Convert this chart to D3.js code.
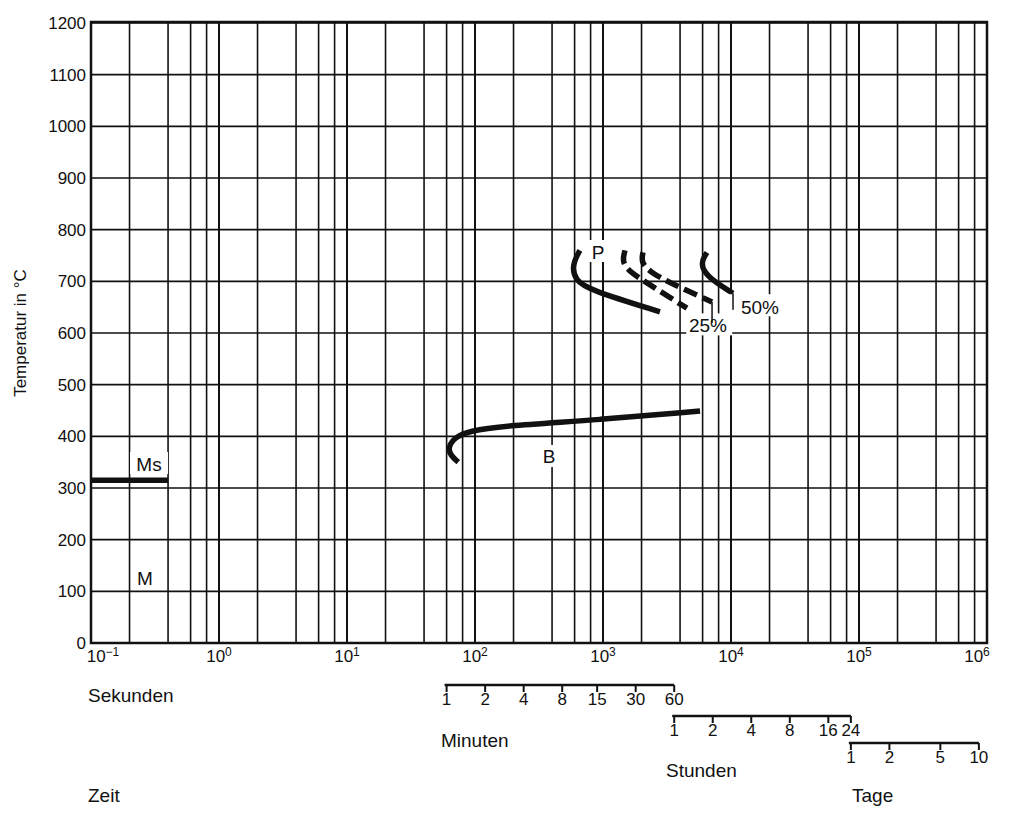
<!DOCTYPE html><html><head><meta charset="utf-8"><script src="https://cdn.jsdelivr.net/npm/d3@7"></script>
<style>body{margin:0;background:#fff}text{font-family:"Liberation Sans",Arial,sans-serif;fill:#111}</style></head><body>
<svg id="c" width="1024" height="819"></svg>
<script>
const yTicks=d3.range(0,1201,100);
const decades=[-1,0,1,2,3,4,5,6];
const gridMult=[1,2,4,6,8];
const msLine=[[0.1,315],[0.4,315]];
const bainit=[[5730,449],[948,432],[157,420],[91,410],[70,399],[61.5,379],[64,364],[74,350]];
const pStart=[[660,760],[573,732],[604,702],[791,683],[2786,641]];
const p25a=[[1486,760],[1406,737],[1626,718],[2328,693],[4529,648]];
const p25b=[[2054,756],[1982,737],[2328,718],[3334,697],[7110,660]];
const p50=[[6494,756],[5730,735],[6494,708],[10370,677]];
const minutes=[1,2,4,8,15,30,60];
const hours=[1,2,4,8,16,24];
const days=[1,2,5,10];

const svg=d3.select("#c");
const x=d3.scaleLog().domain([0.1,1e6]).range([91,987]);
const y=d3.scaleLinear().domain([0,1200]).range([643,23]);
const g=svg.append("g");
const vx=[];decades.forEach(d=>{if(d<6)gridMult.forEach(m=>vx.push(m*Math.pow(10,d)));});
g.selectAll(".v").data(vx).join("line").attr("x1",d=>x(d)).attr("x2",d=>x(d)).attr("y1",y(1200)).attr("y2",y(0)).attr("stroke","#111").attr("stroke-width",d=>Math.abs(Math.log10(d)-Math.round(Math.log10(d)))<1e-9?2:1.6);
g.selectAll(".h").data(yTicks).join("line").attr("x1",x(0.1)).attr("x2",x(1e6)).attr("y1",d=>y(d)).attr("y2",d=>y(d)).attr("stroke","#111").attr("stroke-width",1.6);
g.append("rect").attr("x",x(0.1)).attr("y",y(1200)-1).attr("width",x(1e6)-x(0.1)).attr("height",y(0)-y(1200)+1).attr("fill","none").attr("stroke","#111").attr("stroke-width",2.5);
g.selectAll(".yl").data(yTicks).join("text").attr("x",x(0.1)-5).attr("y",d=>y(d)+6).attr("text-anchor","end").attr("font-size",17).text(d=>d);
svg.append("text").attr("transform","translate(26,333) rotate(-90)").attr("text-anchor","middle").attr("font-size",17).text("Temperatur in °C");
decades.forEach(d=>{const t=svg.append("text").attr("x",x(Math.pow(10,d))+(d===-1?12:d===6?-10:0)).attr("y",662).attr("text-anchor","middle").attr("font-size",17);
t.append("tspan").text("10");t.append("tspan").attr("dy",-6).attr("font-size",12).text(d===-1?"−1":d);});
const line=d3.line().x(d=>x(d[0])).y(d=>y(d[1])).curve(d3.curveBasis);
const draw=(data,dash)=>svg.append("path").attr("d",line(data)).attr("fill","none").attr("stroke","#111").attr("stroke-width",5.5).attr("stroke-linecap","butt").attr("stroke-dasharray",dash||null);
draw(msLine);draw(bainit);draw(pStart);draw(p25a,"14,6");draw(p25b,"14,6");draw(p50);
const lab=(t,xv,yv,a)=>svg.append("text").attr("x",xv).attr("y",yv).attr("font-size",19).attr("text-anchor",a||"middle").text(t);
svg.append("rect").attr("x",x(3600)+12).attr("y",y(638)).attr("width",46).attr("height",22).attr("fill","#fff");
svg.append("rect").attr("x",x(9000)+4).attr("y",y(675)).attr("width",50).attr("height",22).attr("fill","#fff");
svg.append("line").attr("x1",x(7110)).attr("x2",x(7110)).attr("y1",y(660)).attr("y2",y(620)).attr("stroke","#111").attr("stroke-width",1.5);
svg.append("line").attr("x1",x(10370)).attr("x2",x(10370)).attr("y1",y(677)).attr("y2",y(645)).attr("stroke","#111").attr("stroke-width",1.5);
lab("25%",708,332);lab("50%",760,314);
svg.append("rect").attr("x",588).attr("y",240).attr("width",20).attr("height",22).attr("fill","#fff");
lab("P",598,259);
svg.append("rect").attr("x",540).attr("y",445).attr("width",18).attr("height",22).attr("fill","#fff");
lab("B",549,463);
svg.append("rect").attr("x",130).attr("y",452).attr("width",38).attr("height",22).attr("fill","#fff");
lab("Ms",149,471);
svg.append("rect").attr("x",134).attr("y",567).attr("width",22).attr("height",22).attr("fill","#fff");
lab("M",145,585);
const scale=(vals,unit,yy)=>{const gg=svg.append("g");
gg.append("line").attr("x1",x(vals[0]*unit)-2).attr("x2",x(vals[vals.length-1]*unit)).attr("y1",yy).attr("y2",yy).attr("stroke","#111").attr("stroke-width",2.5);
vals.forEach(v=>{gg.append("line").attr("x1",x(v*unit)).attr("x2",x(v*unit)).attr("y1",yy).attr("y2",yy+7).attr("stroke","#111").attr("stroke-width",2);
gg.append("text").attr("x",x(v*unit)).attr("y",yy+20).attr("text-anchor","middle").attr("font-size",17).text(v);});};
scale(minutes,60,685);scale(hours,3600,716);scale(days,86400,743);
const t2=(s,xv,yv)=>svg.append("text").attr("x",xv).attr("y",yv).attr("font-size",19).text(s);
t2("Sekunden",88,702);t2("Minuten",441,747);t2("Stunden",666,777);t2("Zeit",88,802);t2("Tage",852,802);
</script></body></html>
